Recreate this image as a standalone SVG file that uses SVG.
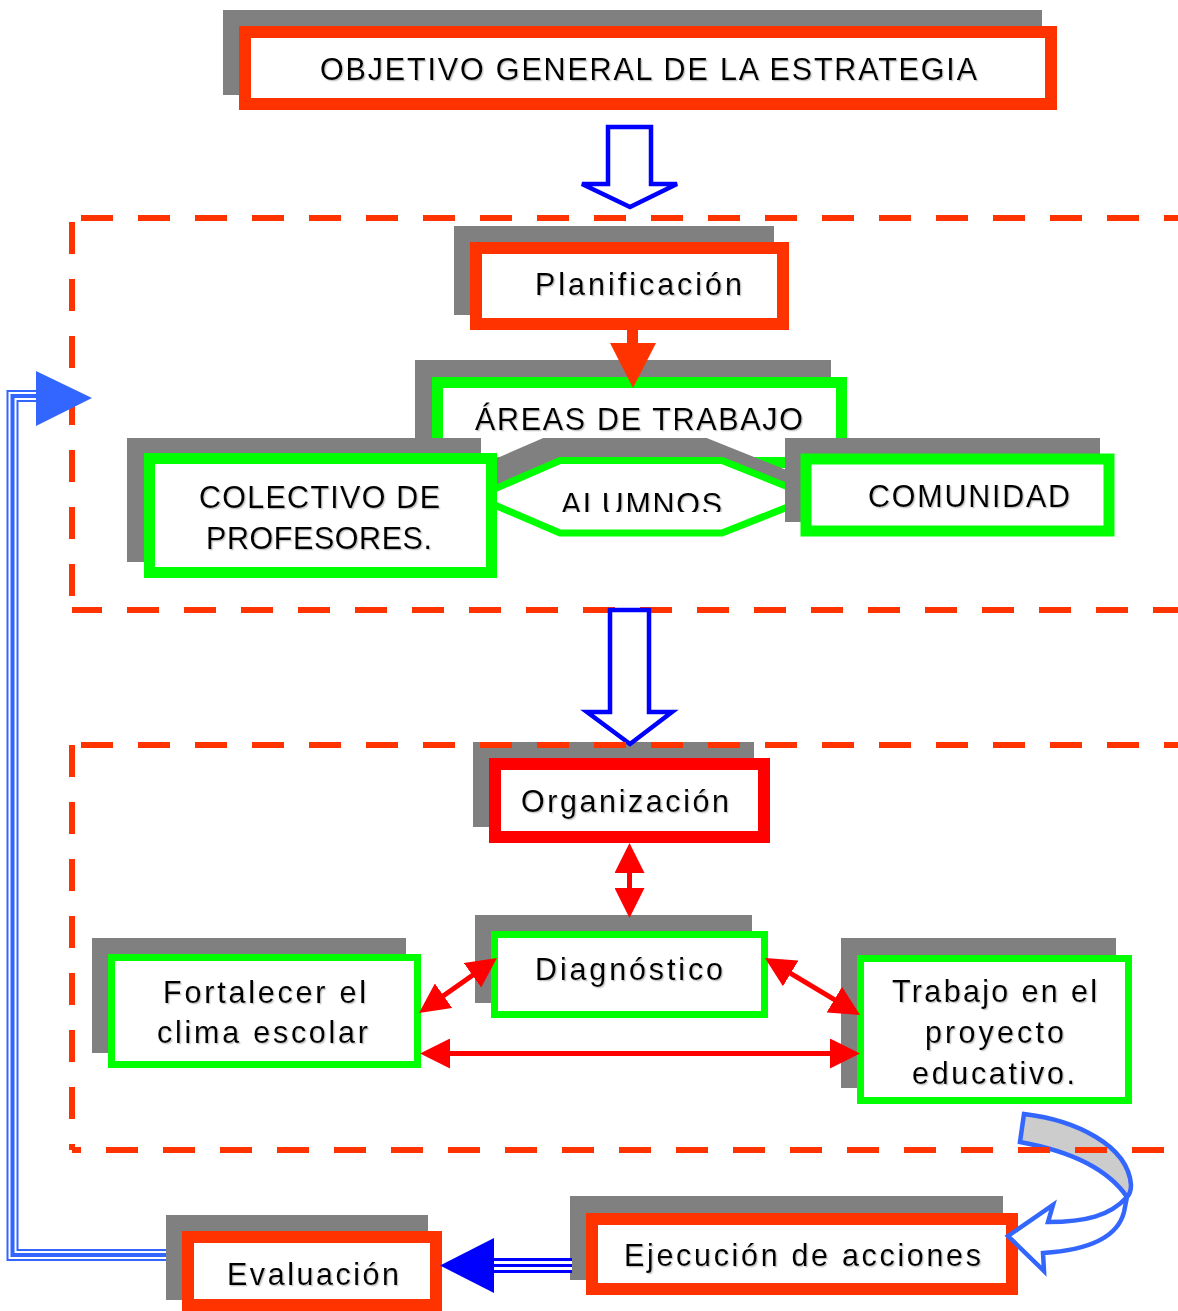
<svg xmlns="http://www.w3.org/2000/svg" width="1178" height="1311" viewBox="0 0 1178 1311">
<defs>
<style>
.sh{fill:#808080;}
.bo{fill:#ffffff;stroke:#FF3300;stroke-width:12;}
.br{fill:#ffffff;stroke:#FF0000;stroke-width:12;}
.bg{fill:#ffffff;stroke:#00FF00;stroke-width:11;}
.bgt{fill:#ffffff;stroke:#00FF00;stroke-width:7;}
.t{font-family:"Liberation Sans",Arial,sans-serif;font-size:30.5px;fill:#000000;text-anchor:middle;filter:url(#ts);}
.dash{fill:none;stroke:#FF3300;stroke-width:6;stroke-dasharray:32 25;}
.hollow{fill:#ffffff;stroke:#0000FF;stroke-width:4.5;stroke-linejoin:miter;}
.rl{fill:none;stroke:#FF0000;stroke-width:5;marker-start:url(#rh);marker-end:url(#rh);}
</style>
<filter id="ts" x="-5%" y="-20%" width="110%" height="140%">
<feDropShadow dx="1.3" dy="1.3" stdDeviation="0.5" flood-color="#999999" flood-opacity="0.55"/>
</filter>
<marker id="rh" viewBox="0 0 30 30" refX="24" refY="15" markerWidth="30" markerHeight="30" markerUnits="userSpaceOnUse" orient="auto-start-reverse">
<path d="M0,0 L30,15 L0,30 Z" fill="#FF0000"/>
</marker>
<clipPath id="alclip"><rect x="480" y="460" width="320" height="52"/></clipPath>
</defs>
<rect width="1178" height="1311" fill="#ffffff"/>

<g id="frame-planificacion">
<path class="dash" d="M72 218 H1178" stroke-dashoffset="48"/>
<path class="dash" d="M72 218 V610" stroke-dashoffset="53"/>
<path class="dash" d="M72 610 H1178" stroke-dashoffset="2"/>
</g>

<g id="nodes">
<g id="objetivo">
<rect class="sh" x="223" y="10" width="819" height="85"/>
<rect class="bo" x="245" y="32" width="806" height="72"/>
<text class="t" x="648.5" y="80" textLength="657" lengthAdjust="spacing">OBJETIVO GENERAL DE LA ESTRATEGIA</text>
</g>
<g id="planificacion">
<rect class="sh" x="454" y="226" width="320" height="89"/>
<rect class="bo" x="476" y="248" width="307" height="76"/>
<text class="t" x="638.5" y="295" textLength="207" lengthAdjust="spacing">Planificación</text>
</g>
<g id="areas">
<rect class="sh" x="415" y="360" width="416" height="90"/>
<rect class="bg" x="437.5" y="382.5" width="404" height="80"/>
<text class="t" x="639" y="430" textLength="328" lengthAdjust="spacing">ÁREAS DE TRABAJO</text>
</g>
<g id="alumnos">
<polygon points="544,441.5 706,441.5 797,478 706,514 544,514 460,478" fill="#808080" stroke="#808080" stroke-width="7"/>
<polygon points="560,460.5 722,460.5 813,497 722,533 560,533 476,497" fill="#ffffff" stroke="#00FF00" stroke-width="7"/>
<text class="t" x="641.5" y="515" textLength="161" lengthAdjust="spacing" clip-path="url(#alclip)">ALUMNOS</text>
</g>
<g id="colectivo">
<rect class="sh" x="127" y="438" width="354" height="124"/>
<rect class="bg" x="149.5" y="458.5" width="342" height="114"/>
<text class="t" x="319.5" y="508" textLength="241" lengthAdjust="spacing">COLECTIVO DE</text>
<text class="t" x="319" y="549" textLength="226" lengthAdjust="spacing">PROFESORES.</text>
</g>
<g id="comunidad">
<rect class="sh" x="785" y="438" width="315" height="84"/>
<rect class="bg" x="806" y="459" width="303" height="72"/>
<text class="t" x="969" y="507" textLength="202" lengthAdjust="spacing">COMUNIDAD</text>
</g>
<g id="organizacion">
<rect class="sh" x="473" y="742" width="281" height="85"/>
<rect class="br" x="495" y="764" width="269" height="73"/>
<text class="t" x="625" y="812" textLength="208" lengthAdjust="spacing">Organización</text>
</g>
<g id="diagnostico">
<rect class="sh" x="475" y="915" width="277" height="88"/>
<rect class="bgt" x="494.5" y="934.5" width="270" height="80"/>
<text class="t" x="629" y="980" textLength="188" lengthAdjust="spacing">Diagnóstico</text>
</g>
<g id="fortalecer">
<rect class="sh" x="92" y="938" width="314" height="115"/>
<rect class="bgt" x="111.5" y="957.5" width="306" height="107"/>
<text class="t" x="264.5" y="1003" textLength="203" lengthAdjust="spacing">Fortalecer el</text>
<text class="t" x="262.5" y="1043" textLength="211" lengthAdjust="spacing">clima escolar</text>
</g>
<g id="trabajo">
<rect class="sh" x="841" y="938" width="275" height="150"/>
<rect class="bgt" x="860.5" y="958.5" width="268" height="142"/>
<text class="t" x="994.5" y="1002" textLength="205" lengthAdjust="spacing">Trabajo en el</text>
<text class="t" x="994.5" y="1043" textLength="139" lengthAdjust="spacing">proyecto</text>
<text class="t" x="993.5" y="1084" textLength="163" lengthAdjust="spacing">educativo.</text>
</g>
<g id="ejecucion">
<rect class="sh" x="570" y="1196" width="433" height="84"/>
<rect class="bo" x="592" y="1219" width="420" height="70"/>
<text class="t" x="802.5" y="1266" textLength="357" lengthAdjust="spacing">Ejecución de acciones</text>
</g>
<g id="evaluacion">
<rect class="sh" x="166" y="1215" width="262" height="85"/>
<rect class="bo" x="188" y="1237" width="248" height="68"/>
<text class="t" x="313" y="1285" textLength="172" lengthAdjust="spacing">Evaluación</text>
</g>
</g>

<g id="connectors">
<polygon class="hollow" points="608,127 651,127 651,184 677,184 630,207 582,184 608,184"/>
<polygon class="hollow" points="610,610 649,610 649,712 672,712 630,744 587,712 610,712"/>
<rect x="627" y="328" width="11" height="17" fill="#FF3300"/>
<polygon points="610,343 656,343 633,388" fill="#FF3300"/>
<path class="rl" d="M629.5 849 V912"/>
<path class="rl" d="M492.1 961.5 L423.9 1009.5"/>
<path class="rl" d="M770.1 961.1 L854.9 1011.9"/>
<path class="rl" d="M426 1053.5 H854"/>
<path d="M572 1265.5 H490" fill="none" stroke="#0000FF" stroke-width="15"/>
<path d="M572 1265.5 H490" fill="none" stroke="#ffffff" stroke-width="9"/>
<path d="M572 1265.5 H490" fill="none" stroke="#0000FF" stroke-width="3"/>
<polygon points="440,1265.5 494,1238 494,1293" fill="#0000FF"/>
<path d="M166 1255 H12.5 V396 H40" fill="none" stroke="#3366FF" stroke-width="12"/>
<path d="M166 1255 H12.5 V396 H40" fill="none" stroke="#ffffff" stroke-width="8"/>
<path d="M166 1255 H12.5 V396 H40" fill="none" stroke="#3366FF" stroke-width="4"/>
<polygon points="36,371 92,398 36,426" fill="#3366FF"/>
<path d="M1024 1114 C1075 1120 1128 1145 1131 1185 C1131 1190 1130 1194 1127 1197 C1110 1172 1075 1152 1020 1142 Z" fill="#CCCCCC" stroke="#3366FF" stroke-width="4.5"/>
<path d="M1127 1197 C1110 1216 1085 1222 1048 1222 L1053 1205 L1008 1236 L1044 1271 L1043 1253 C1090 1250 1118 1236 1124 1212 Z" fill="#ffffff" stroke="#3366FF" stroke-width="4.5"/>
</g>

<g id="frame-organizacion">
<path class="dash" d="M72 745 H1178" stroke-dashoffset="48"/>
<path class="dash" d="M72 745 V1150" stroke-dashoffset="0"/>
<path class="dash" d="M72 1150 H1165" stroke-dashoffset="23"/>
</g>
</svg>
